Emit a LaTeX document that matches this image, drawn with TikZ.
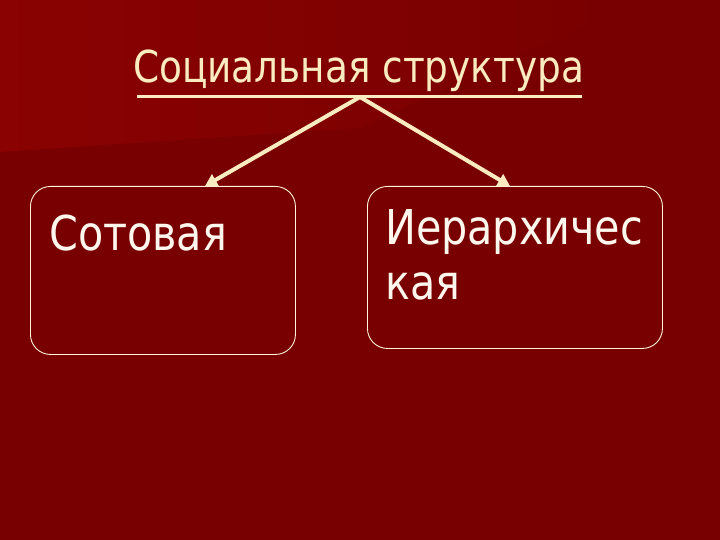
\documentclass[tikz,border=0pt]{standalone}
\usepackage{fontspec}
\setmainfont{DejaVu Sans}[FakeStretch=0.86]
\newfontfamily\titlefam{DejaVu Sans}[FakeStretch=0.85]
\usetikzlibrary{arrows.meta}
\definecolor{bgdark}{HTML}{780000}
\definecolor{bglight}{HTML}{8A0202}
\definecolor{cream}{HTML}{FAEBC0}
\definecolor{boxtxt}{HTML}{FFF6EE}
\tikzset{
  titletext/.style={text=cream, inner sep=0, font=\titlefam\fontsize{44}{54}\selectfont},
  boxtext/.style={text=boxtxt, inner sep=0, align=left, font=\fontsize{48}{55}\selectfont},
  roundbox/.style={draw=cream!60!white, line width=0.9pt, rounded corners=20pt, inner sep=0},
  branch/.style={draw=cream, line width=4pt, -{Triangle[length=12pt,width=13pt]}}
}
\begin{document}
\begin{tikzpicture}[x=1pt,y=-1pt]
\useasboundingbox (0,0) rectangle (720,540);
\fill[bgdark] (0,0) rectangle (720,540);
\shade[left color=bglight, right color=bgdark] (0,0) -- (640,0) -- (360,128) -- (0,152) -- cycle;
% title
\node[titletext, anchor=base west] (title) at (133,83) {Социальная структура};
\draw[cream, line width=3pt] (137,97) -- (582,97);
\coordinate (apex) at (360,97);
% boxes
\node[roundbox, minimum width=265pt, minimum height=168pt, anchor=north west] (left) at (30,186) {};
\node[roundbox, minimum width=295pt, minimum height=162pt, anchor=north west] (right) at (367,186) {};
\coordinate (ltip) at (205,186);
\coordinate (rtip) at (510,186);
\draw[branch] (apex) -- (ltip);
\draw[branch] (apex) -- (rtip);
\node[boxtext, anchor=base west] (ltext) at (49,250) {Сотовая};
\node[boxtext, anchor=north west] (rtext) at (385,209) {Иерархичес\\кая};
\end{tikzpicture}
\end{document}
